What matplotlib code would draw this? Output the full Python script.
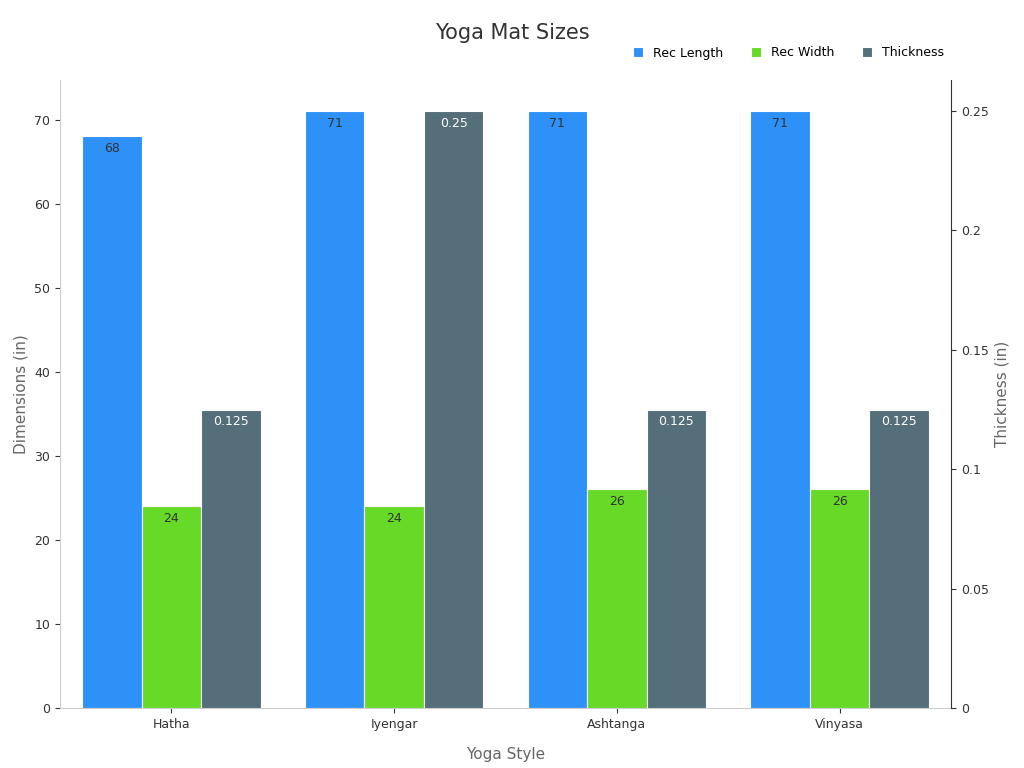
import numpy as np
import matplotlib
matplotlib.use("Agg")
from matplotlib import pyplot as plt

styles = ["Hatha", "Iyengar", "Ashtanga", "Vinyasa"]
rec_length = [68, 71, 71, 71]
rec_width = [24, 24, 26, 26]
thickness = [0.125, 0.25, 0.125, 0.125]

blue, green, slate = "#2E91F8", "#66DA26", "#546E7A"

fig = plt.figure(figsize=(10.24, 7.68), dpi=100)
ax = fig.add_axes([60/1024, 60/768, 891/1024, 628/768])
ax2 = ax.twinx()

x = np.arange(len(styles))
w = 0.267
b1 = ax.bar(x - w, rec_length, w, color=blue, edgecolor="white", linewidth=0.8, label="Rec Length")
b2 = ax.bar(x, rec_width, w, color=green, edgecolor="white", linewidth=0.8, label="Rec Width")
b3 = ax2.bar(x + w, thickness, w, color=slate, edgecolor="white", linewidth=0.8, label="Thickness")

for bars, vals, a, col in [(b1, rec_length, ax, "#333333"), (b2, rec_width, ax, "#333333"),
                           (b3, thickness, ax2, "white")]:
    for bar, v in zip(bars, vals):
        a.annotate(f"{v:g}", (bar.get_x() + bar.get_width()/2, v), xytext=(0, -4),
                   textcoords="offset points", ha="center", va="top", fontsize=9, color=col)

ax.set_xlim(-0.5, 3.5)
ax.set_ylim(0, 74.7)
ax2.set_ylim(0, 0.263)
ax.set_yticks(range(0, 71, 10))
ax2.set_yticks([0, 0.05, 0.1, 0.15, 0.2, 0.25])
ax2.set_yticklabels(["0", "0.05", "0.1", "0.15", "0.2", "0.25"])
ax.set_xticks(x)
ax.set_xticklabels(styles)

for a in (ax, ax2):
    a.tick_params(labelsize=9, colors="#333333")
    a.spines["top"].set_visible(False)
    for s in ("left", "right", "bottom"):
        a.spines[s].set_color("#cccccc")
ax2.spines["right"].set_color("#333333")
ax.spines["right"].set_visible(False)
ax2.spines["left"].set_visible(False)
ax2.spines["bottom"].set_visible(False)

ax.set_xlabel("Yoga Style", fontsize=11, color="#666666", labelpad=12)
ax.set_ylabel("Dimensions (in)", fontsize=11, color="#666666")
ax2.set_ylabel("Thickness (in)", fontsize=11, color="#666666")
fig.text(512/1024, 1 - 33/768, "Yoga Mat Sizes", ha="center", va="center", fontsize=15, color="#333333")

handles = [b1, b2, b3]
fig.legend(handles, [h.get_label() for h in handles], loc="center right",
           bbox_to_anchor=(955/1024, 1 - 53/768), ncol=3, frameon=False, fontsize=9,
           handlelength=0.8, handleheight=0.8, columnspacing=2.2)

fig.savefig("out.png", dpi=100)
